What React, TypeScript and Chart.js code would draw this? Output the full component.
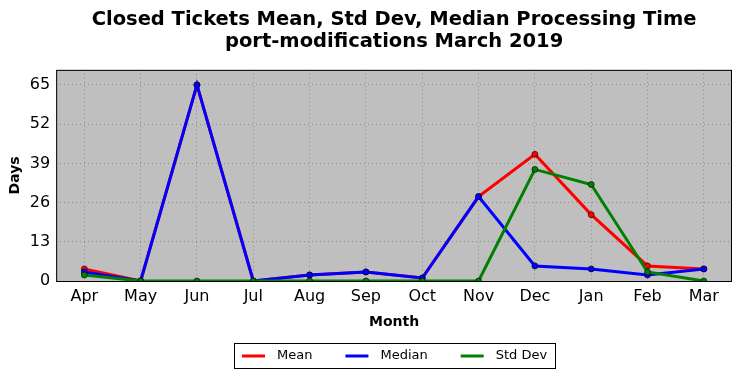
import React, { useEffect, useRef } from "react";
import { Chart, registerables } from "chart.js";

Chart.register(...registerables);

const months = ["Apr", "May", "Jun", "Jul", "Aug", "Sep", "Oct", "Nov", "Dec", "Jan", "Feb", "Mar"];
const meanDays = [4, 0, 65, 0, 2, 3, 1, 28, 42, 22, 5, 4];
const medianDays = [3, 0, 65, 0, 2, 3, 1, 28, 5, 4, 2, 4];
const stdDevDays = [2, 0, 0, 0, 0, 0, 0, 0, 37, 32, 3, 0];
const yTicks = [0, 13, 26, 39, 52, 65];
const titleLines = ["Closed Tickets Mean, Std Dev, Median Processing Time", "port-modifications March 2019"];

const FONT = "'DejaVu Sans', sans-serif";

const plotDecor = {
  id: "plotDecor",
  beforeDraw(chart: any) {
    const { ctx, chartArea } = chart;
    ctx.save();
    ctx.fillStyle = "#bfbfbf";
    ctx.fillRect(chartArea.left, chartArea.top, chartArea.right - chartArea.left, chartArea.bottom - chartArea.top);
    ctx.restore();
  },
  afterDraw(chart: any) {
    const { ctx, chartArea } = chart;
    ctx.save();
    ctx.strokeStyle = "#000";
    ctx.lineWidth = 1;
    ctx.strokeRect(chartArea.left + 0.5, chartArea.top + 0.5, chartArea.right - chartArea.left - 1, chartArea.bottom - chartArea.top);

    const cx = (chartArea.left + chartArea.right) / 2;

    // title centred over the plot area
    ctx.fillStyle = "#000";
    ctx.font = `bold 19.5px ${FONT}`;
    ctx.textAlign = "center";
    ctx.textBaseline = "middle";
    titleLines.forEach((t, i) => ctx.fillText(t, cx, 19.5 + i * 22.4));

    // custom legend, matplotlib-like box
    const ds = chart.data.datasets;
    ctx.font = `13px ${FONT}`;
    const pad = 8, lineLen = 23, gap = 12, itemGap = 33;
    const widths = ds.map((d: any) => ctx.measureText(d.label).width);
    let total = pad * 2;
    widths.forEach((w: number, i: number) => {
      total += lineLen + gap + w + (i < widths.length - 1 ? itemGap : 0);
    });
    const left = Math.round(cx - total / 2);
    const top = 343, h = 25;
    ctx.fillStyle = "#fff";
    ctx.fillRect(left, top, total, h);
    ctx.strokeStyle = "#000";
    ctx.lineWidth = 1;
    ctx.strokeRect(left + 0.5, top + 0.5, Math.round(total), h);
    let x = left + pad;
    const cy = top + h / 2 + 0.5;
    ds.forEach((d: any, i: number) => {
      ctx.strokeStyle = d.borderColor;
      ctx.lineWidth = 3;
      ctx.beginPath();
      ctx.moveTo(x, cy);
      ctx.lineTo(x + lineLen, cy);
      ctx.stroke();
      x += lineLen + gap;
      ctx.fillStyle = "#000";
      ctx.textBaseline = "middle";
      ctx.textAlign = "left";
      ctx.fillText(d.label, x, cy);
      x += widths[i] + itemGap;
    });
    ctx.restore();
  },
};

export default function App() {
  const ref = useRef<HTMLCanvasElement>(null);
  useEffect(() => {
    document.body.style.margin = "0";
    const mk = (label: string, data: number[], color: string, order: number) => ({
      label,
      data,
      borderColor: color,
      backgroundColor: color,
      borderWidth: 3,
      pointRadius: 3,
      pointBorderColor: "#000",
      pointBorderWidth: 0.6,
      pointBackgroundColor: color,
      tension: 0,
      order,
    });
    const chart = new Chart(ref.current!, {
      type: "line",
      data: {
        labels: months,
        datasets: [
          mk("Mean", meanDays, "#ff0000", 3),
          mk("Median", medianDays, "#0000ff", 2),
          mk("Std Dev", stdDevDays, "#008000", 1),
        ],
      },
      options: {
        animation: false,
        responsive: false,
        layout: { padding: { left: 3, right: 10, top: 0, bottom: 43 } },
        plugins: {
          title: {
            display: true,
            text: titleLines,
            color: "rgba(0,0,0,0)",
            font: { family: FONT, size: 19.5, weight: "bold", lineHeight: 1.15 },
            padding: { top: 8, bottom: 17 },
          },
          legend: { display: false },
          tooltip: { enabled: false },
        },
        scales: {
          x: {
            offset: true,
            grid: { color: "#8a8a8a", drawTicks: false },
            border: { display: false, dash: [1, 3] },
            ticks: { color: "#000", font: { family: FONT, size: 16 }, padding: 6 },
            title: { display: true, text: "Month", color: "#000", font: { family: FONT, size: 14, weight: "bold" }, padding: { top: 2 } },
          },
          y: {
            min: 0,
            max: 70,
            afterBuildTicks: (axis: any) => {
              axis.ticks = yTicks.map((v) => ({ value: v }));
            },
            grid: { color: "#8a8a8a", drawTicks: false },
            border: { display: false, dash: [1, 3] },
            ticks: { color: "#000", font: { family: FONT, size: 16 }, padding: 6 },
            title: { display: true, text: "Days", color: "#000", font: { family: FONT, size: 14, weight: "bold" }, padding: { top: 4, bottom: 0 } },
          },
        },
      },
      plugins: [plotDecor],
    });
    return () => chart.destroy();
  }, []);
  return (
    <div style={{ width: 742, height: 378 }}>
      <canvas ref={ref} width={742} height={378} style={{ background: "#fff" }} />
    </div>
  );
}
